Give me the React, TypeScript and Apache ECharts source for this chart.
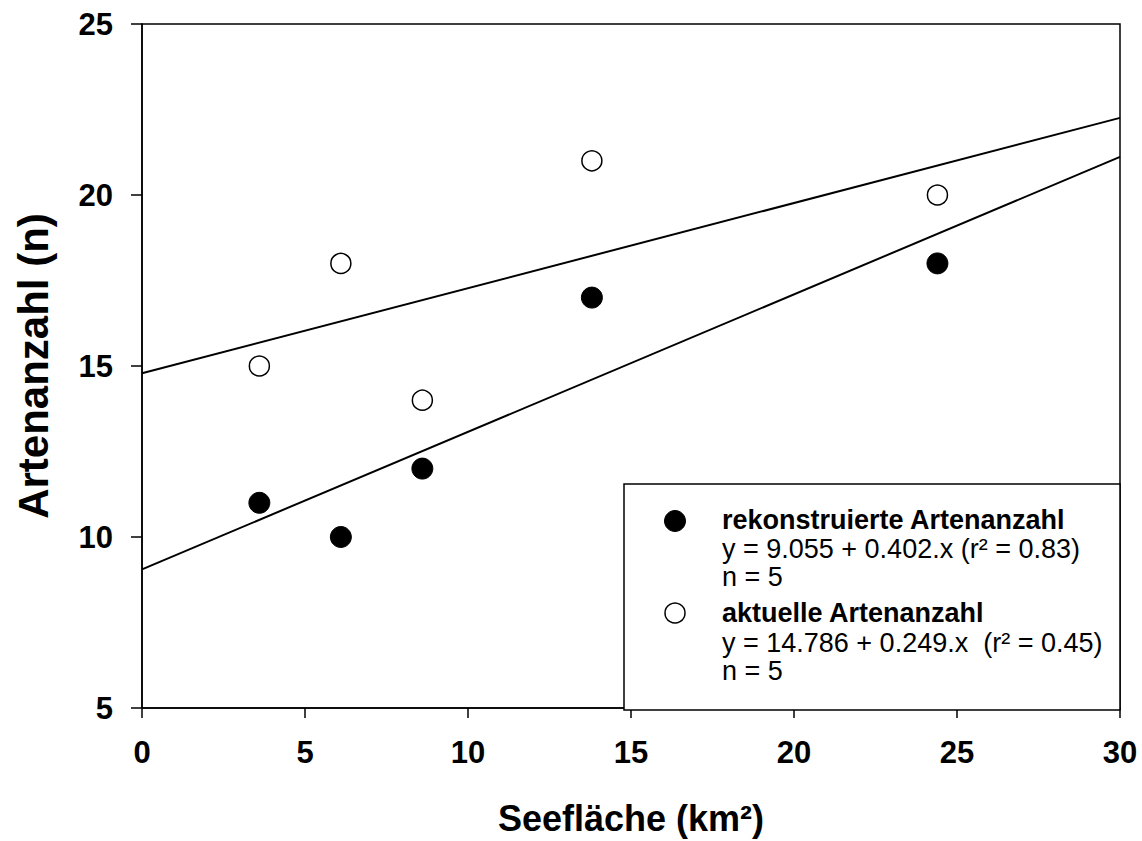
import React, { useEffect, useRef } from "react";
import * as echarts from "echarts";

const seeflaeche = [3.6, 6.1, 8.6, 13.8, 24.4];
const rekonstruiert = [11, 10, 12, 17, 18];
const aktuell = [15, 18, 14, 21, 20];
const xTicks = [0, 5, 10, 15, 20, 25, 30];
const yTicks = [5, 10, 15, 20, 25];
const fitRekonstruiert = { a: 9.055, b: 0.402 };
const fitAktuell = { a: 14.786, b: 0.249 };
const legendLines = [
  { text: "rekonstruierte Artenanzahl", bold: true },
  { text: "y = 9.055 + 0.402.x (r² = 0.83)", bold: false },
  { text: "n = 5", bold: false },
  { text: "aktuelle Artenanzahl", bold: true },
  { text: "y = 14.786 + 0.249.x  (r² = 0.45)", bold: false },
  { text: "n = 5", bold: false },
];

const FONT = "'Liberation Sans', Arial, sans-serif";

export default function App() {
  const ref = useRef<HTMLDivElement>(null);
  useEffect(() => {
    if (!ref.current) return;
    const chart = echarts.init(ref.current, undefined, { renderer: "svg" });
    const xMin = xTicks[0];
    const xMax = xTicks[xTicks.length - 1];
    const fitLine = (f: { a: number; b: number }) => [
      [xMin, f.a + f.b * xMin],
      [xMax, f.a + f.b * xMax],
    ];
    const lineYs = [520, 549, 577, 613, 643, 671];
    chart.setOption({
      animation: false,
      backgroundColor: "#fff",
      textStyle: { fontFamily: FONT },
      grid: {
        left: 142,
        top: 24,
        right: 22,
        bottom: 131,
        show: true,
        borderColor: "#000",
        borderWidth: 1.5,
        backgroundColor: "transparent",
      },
      xAxis: {
        type: "value",
        min: xMin,
        max: xMax,
        interval: 5,
        name: "Seefläche (km²)",
        nameLocation: "middle",
        nameGap: 92,
        nameTextStyle: { fontSize: 36, fontWeight: "bold", color: "#000", fontFamily: FONT },
        axisLine: { show: true, lineStyle: { color: "#000", width: 1.5 } },
        axisTick: { show: true, inside: false, length: 10, lineStyle: { color: "#000", width: 1.5 } },
        axisLabel: { fontSize: 31, fontWeight: "bold", color: "#000", margin: 29, fontFamily: FONT },
        splitLine: { show: false },
      },
      yAxis: {
        type: "value",
        min: yTicks[0],
        max: yTicks[yTicks.length - 1],
        interval: 5,
        name: "Artenanzahl (n)",
        nameLocation: "middle",
        nameGap: 88,
        nameTextStyle: { fontSize: 42, fontWeight: "bold", color: "#000", fontFamily: FONT },
        axisLine: { show: true, lineStyle: { color: "#000", width: 1.5 } },
        axisTick: { show: true, inside: false, length: 11, lineStyle: { color: "#000", width: 1.5 } },
        axisLabel: { fontSize: 31, fontWeight: "bold", color: "#000", margin: 29, fontFamily: FONT },
        splitLine: { show: false },
      },
      series: [
        {
          type: "line",
          data: fitLine(fitAktuell),
          symbol: "none",
          lineStyle: { color: "#000", width: 2 },
          silent: true,
          z: 2,
        },
        {
          type: "line",
          data: fitLine(fitRekonstruiert),
          symbol: "none",
          lineStyle: { color: "#000", width: 2 },
          silent: true,
          z: 2,
        },
        {
          name: "rekonstruierte Artenanzahl",
          type: "scatter",
          data: seeflaeche.map((x, i) => [x, rekonstruiert[i]]),
          symbol: "circle",
          symbolSize: 21,
          itemStyle: { color: "#000", borderColor: "#000", borderWidth: 1, opacity: 1 },
          z: 3,
        },
        {
          name: "aktuelle Artenanzahl",
          type: "scatter",
          data: seeflaeche.map((x, i) => [x, aktuell[i]]),
          symbol: "circle",
          symbolSize: 20,
          itemStyle: { color: "#fff", borderColor: "#000", borderWidth: 1.5, opacity: 1 },
          z: 3,
        },
      ],
      graphic: [
        {
          type: "rect",
          shape: { x: 624, y: 484, width: 496, height: 226 },
          style: { fill: "#fff", stroke: "#000", lineWidth: 1.5 },
          z: 10,
        },
        {
          type: "circle",
          shape: { cx: 675, cy: 521, r: 10.5 },
          style: { fill: "#000", stroke: "#000", lineWidth: 1 },
          z: 11,
        },
        {
          type: "circle",
          shape: { cx: 675, cy: 613, r: 10 },
          style: { fill: "#fff", stroke: "#000", lineWidth: 1.5 },
          z: 11,
        },
        ...legendLines.map((l, i) => ({
          type: "text",
          x: 722,
          y: lineYs[i],
          z: 11,
          style: {
            text: l.text,
            fill: "#000",
            font: `${l.bold ? "bold " : ""}27px ${FONT}`,
            verticalAlign: "middle",
            align: "left",
          },
        })),
      ],
    });
    return () => chart.dispose();
  }, []);
  return (
    <div
      ref={ref}
      style={{ position: "fixed", left: 0, top: 0, width: 1142, height: 841 }}
    />
  );
}
